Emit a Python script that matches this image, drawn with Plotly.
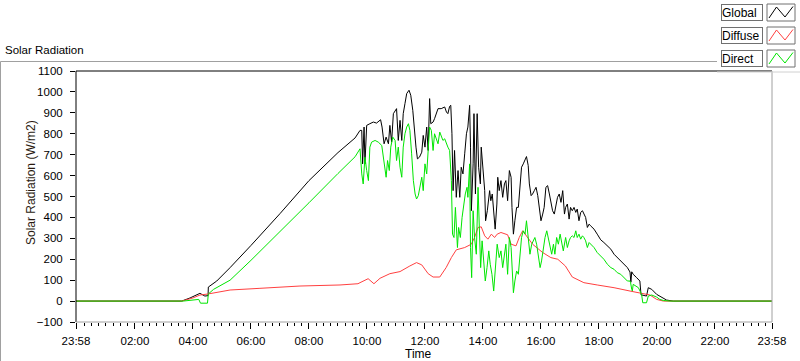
import plotly.graph_objects as go

# ---------------- data (time in decimal hours, values in W/m2) ----------------
GLOBAL_T = [-0.033, 3.61, 3.90, 4.24, 4.41, 4.52, 4.53, 4.82, 5.28, 5.85, 6.00, 7.00, 8.00, 9.00, 9.59,
            9.76, 9.82, 9.85, 9.90, 9.93, 9.99, 10.10, 10.22, 10.33, 10.47, 10.52, 10.59, 10.66, 10.74,
            10.79, 10.85, 10.91, 11.02, 11.08, 11.14, 11.20, 11.25, 11.31, 11.37, 11.45, 11.51, 11.58,
            11.63, 11.69, 11.74, 11.81, 11.89, 11.94, 12.00, 12.06, 12.11, 12.15, 12.16, 12.20, 12.28,
            12.33, 12.45, 12.56, 12.68, 12.74, 12.79, 12.85, 12.89, 12.93, 12.97, 13.02, 13.08, 13.14,
            13.20, 13.25, 13.31, 13.37, 13.43, 13.48, 13.54, 13.57, 13.60, 13.66, 13.69, 13.74, 13.80,
            13.85, 13.91, 13.94, 14.00, 14.06, 14.09, 14.15, 14.23, 14.27, 14.32, 14.38, 14.42, 14.48,
            14.51, 14.56, 14.62, 14.68, 14.74, 14.79, 14.85, 14.91, 14.97, 15.00, 15.05, 15.10, 15.16,
            15.22, 15.28, 15.33, 15.39, 15.45, 15.50, 15.56, 15.60, 15.66, 15.71, 15.77, 15.83, 15.89,
            15.94, 16.00, 16.06, 16.11, 16.17, 16.23, 16.29, 16.34, 16.40, 16.46, 16.52, 16.57, 16.63,
            16.69, 16.75, 16.81, 16.85, 16.91, 16.97, 17.02, 17.08, 17.14, 17.20, 17.25, 17.31, 17.37,
            17.43, 17.48, 17.54, 17.60, 17.66, 17.71, 17.83, 17.94, 18.06, 18.17, 18.29, 18.41, 18.52,
            18.63, 18.75, 18.86, 18.98, 19.07, 19.10, 19.13, 19.18, 19.30, 19.41, 19.45, 19.64, 19.70,
            19.82, 19.99, 20.10, 20.22, 20.33, 20.56, 23.967]
GLOBAL_V = [0, 0, 15, 37, 24, 26, 67, 96, 160, 240, 266, 418, 576, 710, 780,
            816, 816, 656, 832, 656, 840, 848, 856, 851, 867, 832, 752, 784, 752,
            840, 760, 896, 920, 768, 864, 768, 896, 944, 992, 1008, 984, 912,
            816, 736, 680, 688, 712, 792, 736, 832, 720, 896, 968, 848, 856,
            872, 920, 920, 928, 904, 896, 931, 936, 800, 528, 720, 496, 624,
            496, 640, 608, 704, 800, 832, 936, 736, 432, 656, 896, 512, 896,
            640, 560, 736, 624, 528, 384, 432, 528, 480, 512, 384, 344, 464,
            592, 528, 576, 496, 560, 576, 480, 624, 592, 448, 320, 384, 448,
            448, 576, 640, 656, 672, 691, 648, 560, 504, 512, 528, 544, 504,
            448, 384, 416, 448, 544, 552, 512, 480, 432, 416, 464, 496, 512,
            472, 528, 416, 448, 464, 392, 448, 432, 448, 424, 440, 384, 424,
            432, 416, 400, 352, 368, 360, 344, 320, 293, 280, 264, 248, 224,
            208, 192, 176, 160, 139, 90, 140, 128, 112, 96, 30, 24, 64,
            56, 32, 24, 16, 5, 0, 0]

DIFFUSE_T = [-0.033, 3.61, 4.00, 4.24, 4.52, 5.28, 6.31, 7.69, 9.07, 9.69, 9.76, 10.04, 10.24, 10.45,
             10.79, 11.14, 11.48, 11.71, 11.89, 12.11, 12.28, 12.51, 12.73, 12.91, 13.08, 13.37, 13.60,
             13.71, 13.83, 13.94, 14.06, 14.17, 14.29, 14.40, 14.49, 14.62, 14.85, 14.97, 15.14, 15.25,
             15.37, 15.54, 15.71, 16.06, 16.34, 16.58, 16.84, 17.08, 17.48, 17.94, 18.52, 19.07, 19.41,
             19.76, 19.99, 20.22, 23.967]
DIFFUSE_V = [0, 0, 15, 29, 34, 53, 61, 72, 77, 83, 88, 107, 83, 109,
             131, 141, 168, 184, 173, 131, 115, 115, 160, 208, 245, 256, 272,
             304, 352, 355, 312, 296, 320, 304, 320, 328, 317, 272, 264, 304,
             336, 304, 272, 232, 208, 200, 168, 115, 88, 77, 64, 48, 40,
             29, 8, 0, 0]

DIRECT_T = [-0.033, 3.66, 4.20, 4.26, 4.50, 4.53, 4.71, 5.28, 6.00, 7.00, 8.00, 9.00, 9.59,
            9.76, 9.82, 9.87, 9.93, 9.99, 10.05, 10.10, 10.16, 10.28, 10.39, 10.51, 10.59, 10.66,
            10.71, 10.77, 10.82, 10.89, 10.97, 11.02, 11.08, 11.14, 11.20, 11.25, 11.31, 11.37,
            11.43, 11.48, 11.54, 11.60, 11.66, 11.71, 11.77, 11.83, 11.89, 11.94, 12.00, 12.06,
            12.11, 12.16, 12.22, 12.28, 12.33, 12.39, 12.45, 12.51, 12.56, 12.62, 12.68, 12.74,
            12.79, 12.85, 12.91, 12.95, 13.00, 13.05, 13.12, 13.16, 13.22, 13.28, 13.33, 13.39,
            13.45, 13.48, 13.54, 13.57, 13.61, 13.66, 13.71, 13.77, 13.83, 13.89, 13.92, 13.97,
            14.02, 14.08, 14.14, 14.20, 14.25, 14.31, 14.37, 14.44, 14.49, 14.56, 14.62, 14.68,
            14.74, 14.79, 14.85, 14.91, 14.97, 15.02, 15.05, 15.10, 15.16, 15.22, 15.28, 15.33,
            15.39, 15.45, 15.50, 15.56, 15.62, 15.68, 15.74, 15.79, 15.85, 15.91, 15.97, 16.02,
            16.08, 16.14, 16.20, 16.25, 16.31, 16.37, 16.43, 16.48, 16.54, 16.60, 16.66, 16.71,
            16.77, 16.85, 16.91, 16.97, 17.02, 17.08, 17.14, 17.20, 17.25, 17.31, 17.37, 17.43,
            17.48, 17.54, 17.60, 17.66, 17.71, 17.83, 17.94, 18.06, 18.17, 18.29, 18.41, 18.52,
            18.63, 18.75, 18.86, 18.98, 19.07, 19.09, 19.13, 19.15, 19.18, 19.36, 19.47, 19.51,
            19.64, 19.70, 19.82, 19.99, 20.10, 20.22, 20.45, 23.967]
DIRECT_V = [0, 0, 8, -10, -10, 34, 56, 100, 195, 330, 470, 610, 690,
            728, 608, 560, 688, 624, 576, 736, 760, 768, 760, 744, 672, 592,
            672, 624, 736, 784, 768, 672, 736, 640, 592, 736, 800, 832,
            848, 816, 704, 576, 512, 488, 504, 544, 592, 528, 656, 608,
            704, 832, 816, 720, 800, 776, 752, 808, 792, 768, 776, 752,
            736, 720, 576, 320, 304, 448, 256, 352, 304, 400, 448, 512,
            544, 496, 656, 256, 112, 432, 304, 224, 544, 256, 160, 288,
            192, 96, 160, 240, 176, 128, 48, 160, 272, 208, 240, 160,
            224, 272, 128, 304, 256, 96, 40, 96, 144, 128, 224, 304,
            336, 320, 384, 304, 224, 272, 288, 304, 272, 224, 160, 192,
            256, 304, 336, 304, 256, 224, 272, 224, 304, 272, 320, 288,
            240, 304, 256, 288, 304, 312, 304, 336, 304, 320, 296, 312,
            304, 288, 256, 280, 272, 256, 232, 216, 200, 176, 160, 152,
            136, 128, 112, 96, 96, 88, 56, 48, 80, 64, 32, -8,
            -8, 24, 29, 19, 8, 3, 0, 0]

SERIES_NAMES = ["Global", "Diffuse", "Direct"]
SERIES_COLORS = ["#000000", "#ff4040", "#00e600"]

X_TICK_VALS = [-0.0333, 2, 4, 6, 8, 10, 12, 14, 16, 18, 20, 22, 23.9667]
X_TICK_TEXT = ["23:58", "02:00", "04:00", "06:00", "08:00", "10:00", "12:00",
               "14:00", "16:00", "18:00", "20:00", "22:00", "23:58"]
Y_TICK_VALS = list(range(-100, 1101, 100))

# ---------------- layout helpers (pixel -> paper) ----------------
W, H = 800, 361
PL, PR, PT, PB = 76, 772, 71, 322


def fx(x):
    return (x - PL) / (PR - PL)


def fy(y):
    return (PB - y) / (PB - PT)


FONT = "Tahoma, 'Liberation Sans', Arial, sans-serif"

fig = go.Figure()
for t, v, name, col in [(GLOBAL_T, GLOBAL_V, SERIES_NAMES[0], SERIES_COLORS[0]),
                        (DIFFUSE_T, DIFFUSE_V, SERIES_NAMES[1], SERIES_COLORS[1]),
                        (DIRECT_T, DIRECT_V, SERIES_NAMES[2], SERIES_COLORS[2])]:
    fig.add_trace(go.Scatter(x=t, y=v, mode="lines", name=name,
                             line=dict(color=col, width=1), showlegend=False))

shapes = []
# plot-area border: dark top/left, gray bottom/right
shapes.append(dict(type="line", xref="paper", yref="paper", x0=0, x1=1, y0=1, y1=1,
                   line=dict(color="#000000", width=1)))
shapes.append(dict(type="line", xref="paper", yref="paper", x0=0, x1=0, y0=0, y1=1,
                   line=dict(color="#000000", width=1)))
shapes.append(dict(type="line", xref="paper", yref="paper", x0=0, x1=1, y0=0, y1=0,
                   line=dict(color="#a0a0a0", width=1)))
shapes.append(dict(type="line", xref="paper", yref="paper", x0=1, x1=1, y0=0, y1=1,
                   line=dict(color="#a0a0a0", width=1)))
# outer panel frame
shapes.append(dict(type="line", xref="paper", yref="paper", x0=fx(0.5), x1=fx(717), y0=fy(61.5), y1=fy(61.5),
                   line=dict(color="#a0a0a0", width=1)))
shapes.append(dict(type="line", xref="paper", yref="paper", x0=fx(0.5), x1=fx(0.5), y0=fy(61.5), y1=fy(361),
                   line=dict(color="#a0a0a0", width=1)))
# legend frame shadow
shapes.append(dict(type="line", xref="paper", yref="paper", x0=fx(717), x1=fx(800), y0=fy(72), y1=fy(72),
                   line=dict(color="#d0d0d0", width=1)))

annotations = []
LEG_ROWS = [12.5, 35.5, 58.5]
for name, col, yc in zip(SERIES_NAMES, SERIES_COLORS, LEG_ROWS):
    annotations.append(dict(text=name, xref="paper", yref="paper", x=fx(742), y=fy(yc),
                            xanchor="center", yanchor="middle", showarrow=False,
                            width=40, height=15, align="left", borderpad=0, borderwidth=1,
                            bordercolor="#707070", bgcolor="#ffffff",
                            font=dict(family=FONT, size=12, color="#000000")))
    top = yc - 8.5
    shapes.append(dict(type="rect", xref="paper", yref="paper",
                       x0=fx(767), x1=fx(795), y0=fy(top), y1=fy(top + 17),
                       line=dict(color="#707070", width=1), fillcolor="#ffffff"))
    pts = [(769, top + 14), (776.5, top + 3), (785, top + 13), (793, top + 2.5)]
    path = "M " + " L ".join(f"{fx(a):.5f},{fy(b):.5f}" for a, b in pts)
    shapes.append(dict(type="path", xref="paper", yref="paper", path=path,
                       line=dict(color=col, width=1)))

annotations.append(dict(text="Solar Radiation", xref="paper", yref="paper", x=fx(3), y=fy(50),
                        xanchor="left", yanchor="middle", showarrow=False,
                        font=dict(family=FONT, size=11.5, color="#000000")))
annotations.append(dict(text="Solar Radiation (W/m2)", xref="paper", yref="paper", x=fx(31), y=fy(183),
                        xanchor="center", yanchor="middle", showarrow=False, textangle=-90,
                        font=dict(family=FONT, size=12, color="#2a1a10")))
annotations.append(dict(text="Time", xref="paper", yref="paper", x=fx(418), y=fy(354),
                        xanchor="center", yanchor="middle", showarrow=False,
                        font=dict(family=FONT, size=12, color="#000000")))

fig.update_layout(
    width=W, height=H,
    margin=dict(l=PL, r=W - PR, t=PT, b=H - PB, pad=0),
    paper_bgcolor="#ffffff", plot_bgcolor="#ffffff",
    shapes=shapes, annotations=annotations,
    showlegend=False,
    xaxis=dict(range=[-0.0333, 23.9667], tickmode="array", tickvals=X_TICK_VALS, ticktext=X_TICK_TEXT,
               ticks="outside", ticklen=6, tickcolor="#000000", tickwidth=1,
               showgrid=False, zeroline=False, showline=False, ticklabelstandoff=2,
               tickfont=dict(family=FONT, size=11.5, color="#000000"),
               minor=dict(tickmode="linear", tick0=0, dtick=0.25, ticks="outside", ticklen=3,
                          tickcolor="#000000", tickwidth=1, showgrid=False)),
    yaxis=dict(range=[-100, 1100], tickmode="array", tickvals=Y_TICK_VALS,
               ticks="outside", ticklen=5, tickcolor="#000000", tickwidth=1,
               showgrid=False, zeroline=False, showline=False, ticklabelstandoff=5,
               tickfont=dict(family=FONT, size=11.5, color="#000000")),
)

fig.write_html("out.html", config={"displayModeBar": False},
               post_script="document.body.style.margin='0';document.body.style.overflow='hidden';")
